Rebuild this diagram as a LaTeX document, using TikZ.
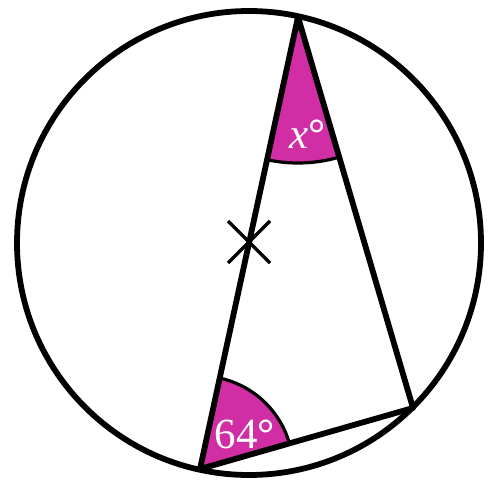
\documentclass[tikz,border=0pt]{standalone}
\usepackage{fontspec}
\setmainfont{Liberation Serif}
\definecolor{mag}{HTML}{D12EA6}
\begin{document}
\begin{tikzpicture}[x=1pt,y=1pt,
  edge/.style={line width=5.8pt,line cap=round,line join=round},
  lab/.style={text=white,font=\fontsize{43}{47}\selectfont,inner sep=0pt}]
\useasboundingbox (0,0) rectangle (489,485);
\coordinate (O) at (249,242);
\coordinate (A) at (298,468);
\coordinate (B) at (200,16);
\coordinate (C) at (413,77);
\begin{scope}
  \clip (A) -- (B) -- (C) -- cycle;
  \fill[mag] (B) circle (93);
  \fill[mag] (A) circle (146);
  \draw[line width=3.2pt] (B) circle (93);
  \draw[line width=3.2pt] (A) circle (146);
\end{scope}
\draw[edge] (O) circle (232);
\draw[edge] (A) -- (B) -- (C) -- cycle;
\draw[line width=3.4pt] (228,264) -- (270,222);
\draw[line width=3.4pt] (228,222) -- (270,264);
\node[lab] (xl) at (308,351) {\textit{x}\textbf{°}};
\node[lab] (al) at (245,51) {64\textbf{°}};
\end{tikzpicture}
\end{document}
